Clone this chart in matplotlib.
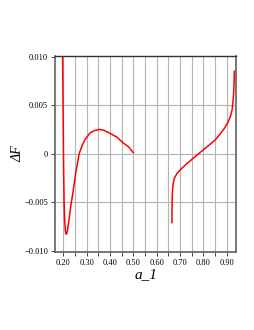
import matplotlib
matplotlib.use('Agg')
import matplotlib.pyplot as plt

# Ramo esquerdo da curva (a_1, dF)
a1_esq = [0.1970, 0.1985, 0.2000, 0.2015, 0.2035, 0.2060, 0.2090, 0.2120, 0.2150,
          0.2180, 0.2220, 0.2270, 0.2320, 0.2400, 0.2530, 0.2680, 0.2800, 0.2930,
          0.3150, 0.3350, 0.3550, 0.3750, 0.4000, 0.4300, 0.4570, 0.4800, 0.5000]
df_esq = [0.0100, 0.0060, 0.0020, -0.0020, -0.0050, -0.0070, -0.0080, -0.0083, -0.0082,
          -0.0079, -0.0072, -0.0063, -0.0054, -0.0042, -0.0020, 0.0000, 0.0008, 0.00146,
          0.00215, 0.0024, 0.0025, 0.0024, 0.0021, 0.0017, 0.0011, 0.0007, 0.0001]

# Ramo direito da curva
a1_dir = [0.6655, 0.6657, 0.6662, 0.6675, 0.6700, 0.6750, 0.6830, 0.6900, 0.7080,
          0.7260, 0.7500, 0.7800, 0.8050, 0.8280, 0.8500, 0.8710, 0.8900,
          0.9070, 0.9170, 0.9230, 0.9270, 0.9300, 0.9320, 0.9330]
df_dir = [-0.0071, -0.0060, -0.0050, -0.0040, -0.0032, -0.0026, -0.0022, -0.00195, -0.0015,
          -0.0011, -0.0006, 0.0000, 0.0005, 0.00095, 0.0014, 0.0020, 0.0026,
          0.0033, 0.0039, 0.0045, 0.0053, 0.0063, 0.0075, 0.0085]

xticks = [0.20, 0.30, 0.40, 0.50, 0.60, 0.70, 0.80, 0.90]
xgrid = [0.20 + 0.05 * i for i in range(15)]
yticks = [-0.010, -0.005, 0.0, 0.005, 0.010]
ylabels = ['\u22120.010', '\u22120.005', '0', '0.005', '0.010']

plt.rcParams['font.family'] = ['Liberation Serif', 'DejaVu Serif']

fig = plt.figure(figsize=(2.55, 3.30), dpi=100)
ax = fig.add_axes([0.2157, 0.2373, 0.7098, 0.5939])

for xv in xgrid:
    ax.axvline(xv, color='#b4b4b4', lw=0.8, zorder=0)
for yv in [-0.005, 0.0, 0.005]:
    ax.axhline(yv, color='#b4b4b4', lw=0.8, zorder=0)

ax.plot(a1_esq, df_esq, color='#ff0000', lw=1.1)
ax.plot(a1_dir, df_dir, color='#ff0000', lw=1.1)

ax.set_xlim(0.1644, 0.940)
ax.set_ylim(-0.0101, 0.0101)
ax.set_xticks(xticks)
ax.set_xticklabels(['%.2f' % v for v in xticks])
ax.set_xticks(xgrid, minor=True)
ax.set_yticks(yticks)
ax.set_yticklabels(ylabels)
ax.tick_params(labelsize=6, length=3, width=0.7, color='#444444', pad=2)
ax.tick_params(which='minor', length=3, width=0.7, color='#444444')

for s in ['left', 'bottom', 'right']:
    ax.spines[s].set_color('#606060')
    ax.spines[s].set_linewidth(1.2)
ax.spines['top'].set_color('#303030')
ax.spines['top'].set_linewidth(1.0)

ax.set_xlabel('a_1', fontsize=11, style='italic', labelpad=1)
ax.set_ylabel('\u0394F', fontsize=10, style='italic')
ax.yaxis.set_label_coords(-0.17, 0.5)

fig.savefig('out.png', dpi=100, facecolor='white')
